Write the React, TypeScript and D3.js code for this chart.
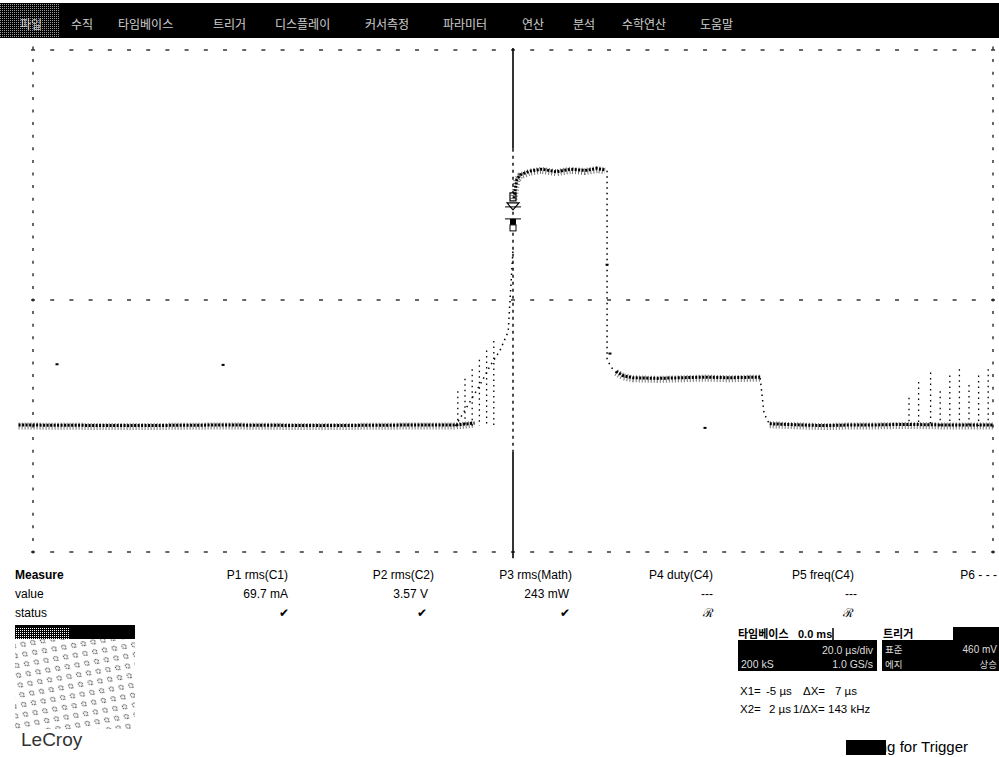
import React from "react";
import * as d3 from "d3";

// ---------- data ----------
const menuItems = ["파일", "수직", "타임베이스", "트리거", "디스플레이", "커서측정", "파라미터", "연산", "분석", "수학연산", "도움말"];

// trace pieces: [time µs, divisions]
const leftBase: [number, number][] = [
  [-103, -2.0], [-80, -2.01], [-60, -2.0], [-40, -2.01], [-20, -2.0], [-12, -2.0], [-8, -1.97],
];
const rampEdge: [number, number][] = [
  [-12, -2.0], [-9, -1.62], [-6.9, -1.35], [-4.8, -1.05], [-2.7, -0.8], [-1.0, -0.5], [0, 0.8],
];
const highPulse: [number, number][] = [
  [0.2, 1.6], [0.8, 1.9], [1.5, 1.97], [3.5, 2.03], [6, 2.06], [9, 2.02], [12, 2.06], [15, 2.04], [17.5, 2.07], [19.2, 2.05],
];
const fallEdge: [number, number][] = [
  [19.6, 2.05], [19.6, -0.95], [20.6, -1.08], [21.9, -1.18],
];
const midLevel: [number, number][] = [
  [21.5, -1.15], [23, -1.22], [25, -1.25], [30, -1.26], [35, -1.25], [40, -1.24], [45, -1.25], [51.5, -1.24],
];
const dropEdge: [number, number][] = [
  [51.5, -1.24], [52.3, -1.8], [53.5, -1.98],
];
const rightBase: [number, number][] = [
  [53.5, -1.98], [60, -2.0], [65, -2.01], [70, -2.0], [75, -2.0], [81.7, -1.99], [90, -2.0], [100, -2.0],
];

// sparse vertical dot columns: [time µs, top division]
const rampSpikes: [number, number][] = [
  [-11.5, -1.45], [-10, -1.25], [-8.5, -1.1], [-7, -0.95], [-5.5, -0.8], [-4, -0.65],
];
const rightSpikes: [number, number][] = [
  [82.5, -1.55], [84.5, -1.3], [87, -1.15], [89, -1.45], [91, -1.2], [93, -1.1], [95, -1.35], [97, -1.2], [99, -1.1],
];
// isolated stray samples: [time µs, division]
const strayDots: [number, number][] = [
  [-95, -1.02], [-60.4, -1.03], [40, -2.03], [19.6, 0.56], [20.2, -0.85],
];

const measureHeaders = ["P1 rms(C1)", "P2 rms(C2)", "P3 rms(Math)", "P4 duty(C4)", "P5 freq(C4)", "P6 - - -"];
const measureValues = ["69.7 mA", "3.57 V", "243 mW", "---", "---", ""];
const measureStatus = ["✔", "✔", "✔", "ℛ", "ℛ", ""];

const timebaseInfo = ["20.0 µs/div", "200 kS", "1.0 GS/s"];
const triggerInfo = ["표준", "460 mV", "에지", "상승"];
const cursorRow1 = ["X1=", "-5 µs", "ΔX=", "7 µs"];
const cursorRow2 = ["X2=", "2 µs", "1/ΔX=", "143 kHz"];

// ---------- component ----------
export default function App() {
  const W = 999, H = 757;
  const x = d3.scaleLinear().domain([-100, 100]).range([33, 993]);
  const y = d3.scaleLinear().domain([-4, 4]).range([552, 48]);
  const line = d3.line<[number, number]>().x(d => x(d[0])).y(d => y(d[1]));

  const minorX = d3.range(-100, 100.01, 4);
  const minorY = d3.range(-4, 4.01, 0.2);

  const menuX = [20, 71, 118, 213, 275, 365, 443, 522, 573, 622, 700];
  const headerRight = [288, 434, 572, 713, 854, 997];
  const valueRight = [288, 428, 569, 713, 857, 0];
  const statusX = [284, 422, 565, 708, 848, 0];

  const sans = "'Liberation Sans', Arial, sans-serif";
  const kr = "'Noto Sans CJK KR', sans-serif";
  const base = -2.0;

  const band = (pts: [number, number][], k: string) => (
    <g key={k}>
      <path d={line(pts) ?? ""} fill="none" stroke="#000" strokeWidth={7} strokeDasharray="1 2" opacity={0.55} />
      <path d={line(pts) ?? ""} fill="none" stroke="#000" strokeWidth={3} strokeDasharray="2 1.5" transform="translate(0,-1)" />
    </g>
  );
  const edge = (pts: [number, number][], k: string) => (
    <path key={k} d={line(pts) ?? ""} fill="none" stroke="#000" strokeWidth={1.5} strokeDasharray="1.5 4" />
  );

  return (
    <svg width={W} height={H} style={{ position: "absolute", left: 0, top: 0, background: "#fff" }}>
      <defs>
        <pattern id="dither" width="2" height="2" patternUnits="userSpaceOnUse">
          <rect width="2" height="2" fill="#000" />
          <rect width="1" height="1" fill="#fff" />
        </pattern>
        <pattern id="ovals" width="14" height="14" patternUnits="userSpaceOnUse" patternTransform="rotate(35)">
          <rect width="14" height="14" fill="#fff" />
          <ellipse cx="3.5" cy="3.5" rx="2.5" ry="1.8" fill="none" stroke="#000" strokeWidth="1" strokeDasharray="1.5 1" />
          <ellipse cx="10.5" cy="10.5" rx="2.5" ry="1.8" fill="none" stroke="#000" strokeWidth="1" strokeDasharray="1.5 1" />
        </pattern>
      </defs>
      <rect width={W} height={H} fill="#fff" />

      {/* menu bar */}
      <rect x={0} y={3} width={W} height={35} fill="#000" />
      <rect x={0} y={3} width={60} height={35} fill="url(#dither)" opacity={0.6} />
      {menuItems.map((m, i) => (
        <text key={m} x={menuX[i]} y={29} fill="#fff" fontFamily={kr} fontSize={12} opacity={0.8}>{m}</text>
      ))}

      {/* grid: dotted borders and center lines */}
      {[4, 0, -4].map(v => (
        <g key={"h" + v}>
          {minorX.map(t => (
            <line key={t} x1={x(t) - 2} x2={x(t) + 2} y1={y(v) + (v === 4 ? 2 : 0)} y2={y(v) + (v === 4 ? 2 : 0)} stroke="#000" strokeWidth={1.2} />
          ))}
        </g>
      ))}
      {[-100, 100].map(tv => (
        <g key={"v" + tv}>
          {minorY.map(v => (
            <line key={v} x1={x(tv)} x2={x(tv)} y1={y(v) - 1.5} y2={y(v) + 1.5} stroke="#000" strokeWidth={1.2} />
          ))}
        </g>
      ))}

      {/* trigger / center line */}
      <line x1={x(0)} x2={x(0)} y1={y(4)} y2={y(2.4)} stroke="#000" strokeWidth={1.6} />
      <line x1={x(0)} x2={x(0)} y1={y(2.4)} y2={y(-2.4)} stroke="#000" strokeWidth={1.4} strokeDasharray="3 4" />
      <line x1={x(0)} x2={x(0)} y1={y(-2.4)} y2={y(-4.1)} stroke="#000" strokeWidth={1.6} />

      {/* trigger marker */}
      <g transform={`translate(${x(0)},${y(1.7)})`}>
        <rect x={-3} y={0} width={6} height={8} fill="#fff" stroke="#000" strokeWidth={1.2} />
        <path d="M-6,10 L6,10 L0,17 Z" fill="#fff" stroke="#000" strokeWidth={1.2} />
        <line x1={-8} x2={8} y1={14} y2={14} stroke="#000" strokeWidth={1} />
        <line x1={-8} x2={8} y1={26} y2={26} stroke="#000" strokeWidth={1} />
        <rect x={-3} y={26} width={6} height={6} fill="#000" />
        <rect x={-3} y={32} width={6} height={6} fill="#fff" stroke="#000" strokeWidth={1} />
      </g>

      {/* sparse dot columns */}
      {[...rampSpikes, ...rightSpikes].map(([t, v]) => (
        <line key={t} x1={x(t)} x2={x(t)} y1={y(v)} y2={y(base)} stroke="#000" strokeWidth={1.3} strokeDasharray="1.5 4" />
      ))}
      {strayDots.map(([t, v]) => (
        <rect key={"s" + t} x={x(t) - 1.5} y={y(v) - 1} width={3} height={2} fill="#000" />
      ))}

      {/* trace */}
      {edge(rampEdge, "ramp")}
      {edge(fallEdge, "fall")}
      {edge(dropEdge, "drop")}
      {band(leftBase, "lb")}
      {band(highPulse, "hp")}
      {band(midLevel, "ml")}
      {band(rightBase, "rb")}

      {/* measurement table */}
      <g fontFamily={sans} fontSize={12} fill="#000">
        <text x={15} y={579} fontWeight="bold">Measure</text>
        <text x={15} y={598}>value</text>
        <text x={15} y={617}>status</text>
        {measureHeaders.map((h, i) => (
          <text key={h} x={headerRight[i]} y={579} textAnchor="end">{h}</text>
        ))}
        {measureValues.map((v, i) => (
          <text key={i} x={valueRight[i]} y={598} textAnchor="end">{v}</text>
        ))}
        {measureStatus.map((s, i) => (
          <text key={i} x={statusX[i]} y={617} textAnchor="middle" fontSize={12}>{s}</text>
        ))}
      </g>

      {/* left logo box */}
      <rect x={15} y={625} width={120} height={104} fill="url(#ovals)" />
      <rect x={15} y={627} width={55} height={12} fill="url(#dither)" />
      <rect x={70} y={627} width={65} height={12} fill="#000" />
      <line x1={15} x2={135} y1={626} y2={626} stroke="#000" strokeWidth={2} />
      <text x={21} y={746} fontFamily={sans} fontSize={19} fill="#333">LeCroy</text>

      {/* timebase box */}
      <g fontFamily={kr} fontSize={11}>
        <text x={738} y={638} fontWeight="bold" fill="#000">타임베이스</text>
        <text x={798} y={638} fill="#000" fontFamily={sans} fontWeight="bold">0.0 ms</text>
        <line x1={833} x2={833} y1={628} y2={640} stroke="#000" strokeWidth={1.5} />
        <rect x={738} y={640} width={139} height={31} fill="#000" />
        <text x={873} y={654} fill="#ddd" textAnchor="end" fontFamily={sans} fontSize={10.5}>{timebaseInfo[0]}</text>
        <text x={741} y={668} fill="#ddd" fontFamily={sans} fontSize={10.5}>{timebaseInfo[1]}</text>
        <text x={873} y={668} fill="#ddd" textAnchor="end" fontFamily={sans} fontSize={10.5}>{timebaseInfo[2]}</text>

        <text x={883} y={638} fontWeight="bold" fill="#000">트리거</text>
        <rect x={953} y={627} width={46} height={13} fill="#000" />
        <rect x={882} y={640} width={117} height={31} fill="#000" />
        <text x={885} y={653} fill="#ddd" fontSize={9.5}>{triggerInfo[0]}</text>
        <text x={997} y={653} fill="#ddd" textAnchor="end" fontFamily={sans} fontSize={10}>{triggerInfo[1]}</text>
        <text x={885} y={668} fill="#ddd" fontSize={9.5}>{triggerInfo[2]}</text>
        <text x={997} y={668} fill="#ddd" textAnchor="end" fontSize={9.5}>{triggerInfo[3]}</text>
      </g>

      {/* cursor readout */}
      <g fontFamily={sans} fontSize={11.5} fill="#000">
        <text x={740} y={695}>{cursorRow1[0]}</text>
        <text x={766} y={695}>{cursorRow1[1]}</text>
        <text x={803} y={695}>{cursorRow1[2]}</text>
        <text x={857} y={695} textAnchor="end">{cursorRow1[3]}</text>
        <text x={740} y={713}>{cursorRow2[0]}</text>
        <text x={769} y={713}>{cursorRow2[1]}</text>
        <text x={793} y={713}>{cursorRow2[2]}</text>
        <text x={828} y={713}>{cursorRow2[3]}</text>
      </g>

      {/* status */}
      <text x={846} y={752} fontFamily={sans} fontSize={15} fill="#000">Waiting for Trigger</text>
      <rect x={846} y={740} width={40} height={15} fill="#000" />
    </svg>
  );
}
